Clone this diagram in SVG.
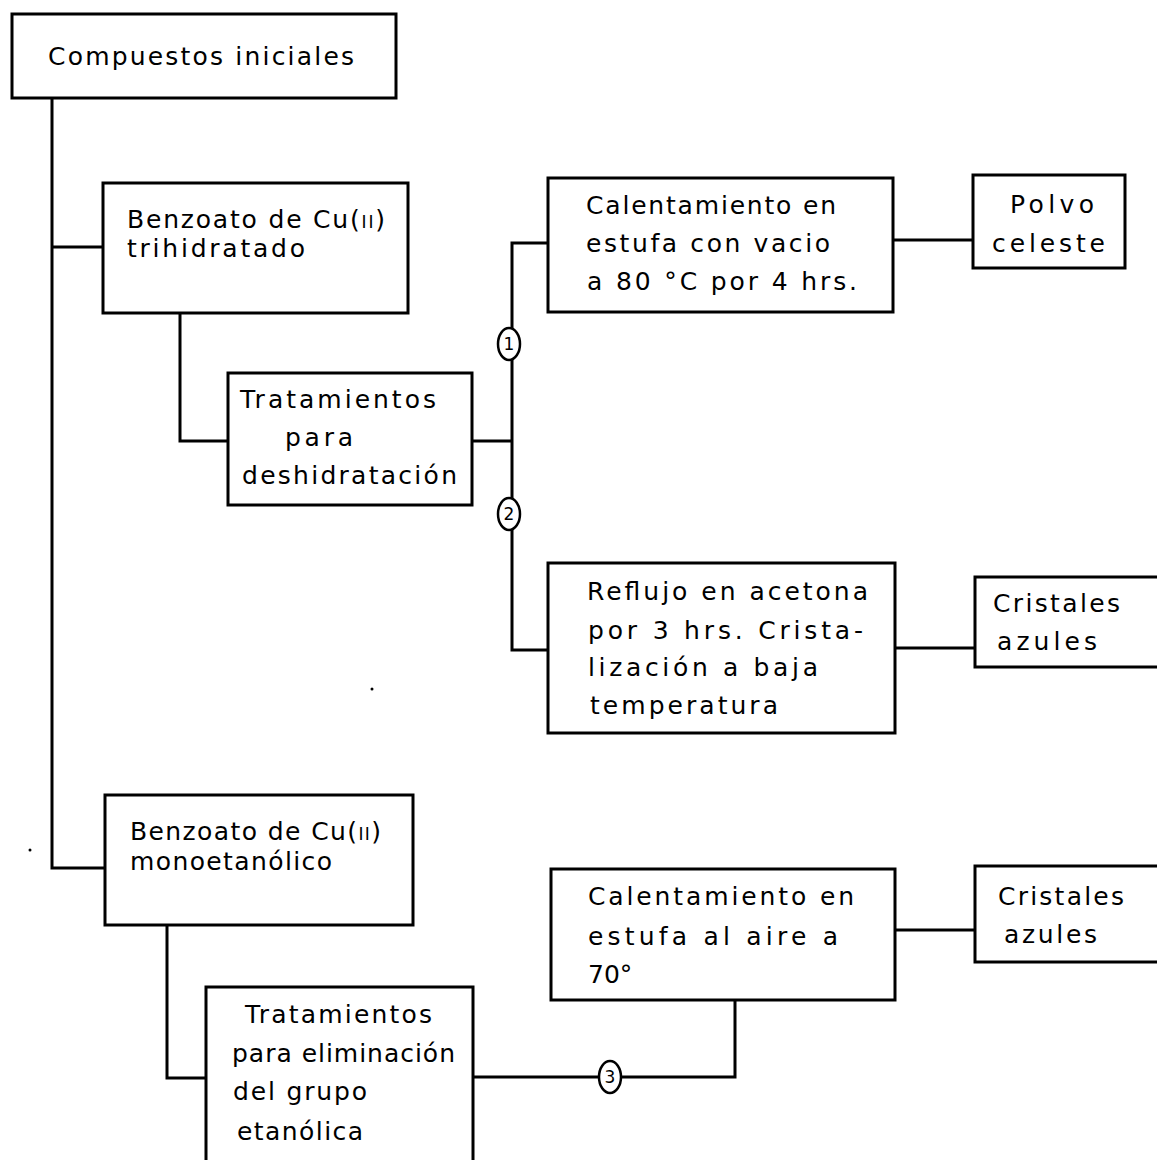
<svg xmlns="http://www.w3.org/2000/svg" width="1157" height="1160" viewBox="0 0 1157 1160">
<style>
.box{fill:#fff;stroke:#000;stroke-width:3}
.ln{fill:none;stroke:#000;stroke-width:3}
.t{font-family:"DejaVu Sans","Liberation Sans",sans-serif;font-size:25px;fill:#000}
.s{font-size:17px}
.c{fill:#fff;stroke:#000;stroke-width:2.5}
.cn{font-family:"DejaVu Sans","Liberation Sans",sans-serif;font-size:17px;fill:#000;text-anchor:middle}
</style>
<rect width="1157" height="1160" fill="#fff"/>
<g id="connectors">
<path class="ln" d="M52 98 V868 H105"/>
<path class="ln" d="M52 247 H103"/>
<path class="ln" d="M180 313 V441 H228"/>
<path class="ln" d="M472 441 H512"/>
<path class="ln" d="M548 243 H512 V650 H548"/>
<path class="ln" d="M893 240 H973"/>
<path class="ln" d="M895 648 H975"/>
<path class="ln" d="M167 925 V1078 H206"/>
<path class="ln" d="M473 1077 H735 V1000"/>
<path class="ln" d="M895 930 H975"/>
<g id="circle1"><ellipse class="c" cx="509" cy="344" rx="11" ry="16"/><text class="cn" x="509" y="350">1</text></g>
<g id="circle2"><ellipse class="c" cx="509" cy="514" rx="11" ry="16"/><text class="cn" x="509" y="520">2</text></g>
<g id="circle3"><ellipse class="c" cx="610" cy="1077" rx="11" ry="16"/><text class="cn" x="610" y="1083">3</text></g>
</g>
<g id="n1"><rect class="box" x="12" y="14" width="384" height="84"/>
<text class="t" x="48" y="65" textLength="306" lengthAdjust="spacing">Compuestos  iniciales</text></g>
<g id="n2"><rect class="box" x="103" y="183" width="305" height="130"/>
<text class="t" x="127" y="228" textLength="258" lengthAdjust="spacing">Benzoato  de Cu(<tspan class="s">II</tspan>)</text>
<text class="t" x="127" y="257" textLength="178" lengthAdjust="spacing">trihidratado</text></g>
<g id="n3"><rect class="box" x="228" y="373" width="244" height="132"/>
<text class="t" x="240" y="408" textLength="196" lengthAdjust="spacing">Tratamientos</text>
<text class="t" x="285" y="446" textLength="68" lengthAdjust="spacing">para</text>
<text class="t" x="242" y="484" textLength="215" lengthAdjust="spacing">deshidratación</text></g>
<g id="n4"><rect class="box" x="548" y="178" width="345" height="134"/>
<text class="t" x="586" y="214" textLength="250" lengthAdjust="spacing">Calentamiento  en</text>
<text class="t" x="586" y="252" textLength="244" lengthAdjust="spacing">estufa  con  vacio</text>
<text class="t" x="587" y="290" textLength="270" lengthAdjust="spacing">a  80 °C  por 4  hrs.</text></g>
<g id="n5"><rect class="box" x="973" y="175" width="152" height="93"/>
<text class="t" x="1010" y="213" textLength="84" lengthAdjust="spacing">Polvo</text>
<text class="t" x="992" y="252" textLength="113" lengthAdjust="spacing">celeste</text></g>
<g id="n6"><rect class="box" x="548" y="563" width="347" height="170"/>
<text class="t" x="587" y="600" textLength="281" lengthAdjust="spacing">Reflujo  en  acetona</text>
<text class="t" x="588" y="639" textLength="275" lengthAdjust="spacing">por  3 hrs.  Crista-</text>
<text class="t" x="588" y="676" textLength="230" lengthAdjust="spacing">lización  a  baja</text>
<text class="t" x="590" y="714" textLength="188" lengthAdjust="spacing">temperatura</text></g>
<g id="n7"><rect class="box" x="975" y="577" width="190" height="90"/>
<text class="t" x="993" y="612" textLength="127" lengthAdjust="spacing">Cristales</text>
<text class="t" x="997" y="650" textLength="100" lengthAdjust="spacing">azules</text></g>
<g id="n8"><rect class="box" x="105" y="795" width="308" height="130"/>
<text class="t" x="130" y="840" textLength="251" lengthAdjust="spacing">Benzoato  de Cu(<tspan class="s">II</tspan>)</text>
<text class="t" x="130" y="870" textLength="202" lengthAdjust="spacing">monoetanólico</text></g>
<g id="n9"><rect class="box" x="206" y="987" width="267" height="190"/>
<text class="t" x="245" y="1023" textLength="187" lengthAdjust="spacing">Tratamientos</text>
<text class="t" x="232" y="1062" textLength="223" lengthAdjust="spacing">para  eliminación</text>
<text class="t" x="233" y="1100" textLength="134" lengthAdjust="spacing">del  grupo</text>
<text class="t" x="237" y="1140" textLength="126" lengthAdjust="spacing">etanólica</text></g>
<g id="n10"><rect class="box" x="551" y="869" width="344" height="131"/>
<text class="t" x="588" y="905" textLength="266" lengthAdjust="spacing">Calentamiento en</text>
<text class="t" x="588" y="945" textLength="250" lengthAdjust="spacing">estufa  al  aire  a</text>
<text class="t" x="588" y="983">70°</text></g>
<g id="n11"><rect class="box" x="975" y="866" width="190" height="96"/>
<text class="t" x="998" y="905" textLength="126" lengthAdjust="spacing">Cristales</text>
<text class="t" x="1004" y="943" textLength="93" lengthAdjust="spacing">azules</text></g>
<circle cx="372" cy="689" r="1.5" fill="#000"/>
<circle cx="30" cy="850" r="1.5" fill="#000"/>
</svg>
